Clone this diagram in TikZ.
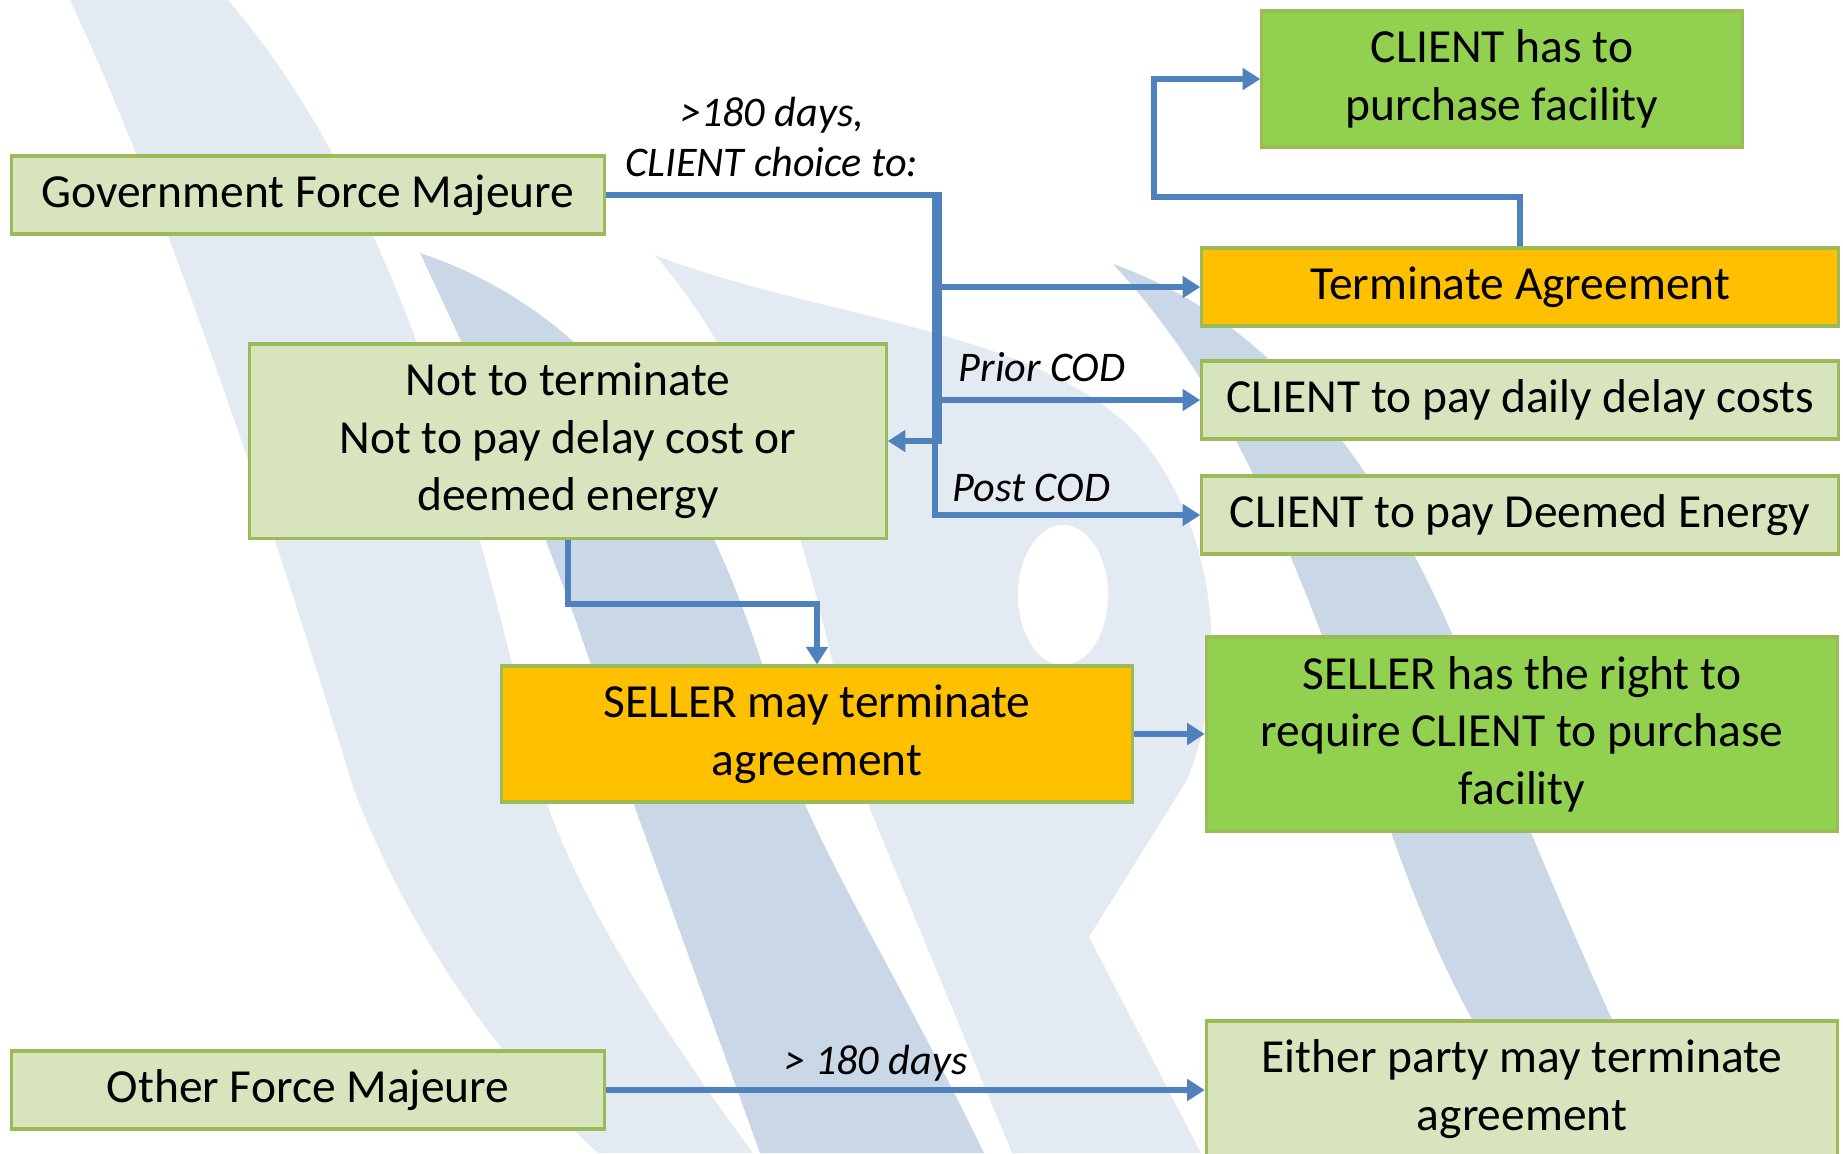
\documentclass[tikz,border=0pt]{standalone}
\usepackage{fontspec}
\setmainfont{Carlito}
\usetikzlibrary{arrows.meta}
\definecolor{palegreen}{HTML}{D7E4BD}
\definecolor{limegreen}{HTML}{92D050}
\definecolor{ambercol}{HTML}{FFC000}
\definecolor{boxline}{HTML}{9BBB59}
\definecolor{connblue}{HTML}{4F81BD}
\definecolor{wmlight}{HTML}{E4EAF2}
\definecolor{wmmid}{HTML}{CAD7E7}
\tikzset{
	fmbox/.style={draw=boxline, line width=0.9pt, align=center, inner sep=0pt, font=\fontsize{13.5}{16.4}\selectfont},
	palebox/.style={fmbox, fill=palegreen},
	limebox/.style={fmbox, fill=limegreen},
	amberbox/.style={fmbox, fill=ambercol},
	conn/.style={draw=connblue, line width=1.7pt, -{Triangle[length=5pt,width=6pt]}},
	cond/.style={font=\fontsize{12}{14}\selectfont\itshape, inner sep=0pt, align=center}
}

\begin{document}
\begin{tikzpicture}[x=0.01cm, y=-0.01cm]
			\useasboundingbox (0,0) rectangle (1843,1153);
			\clip (0,0) rectangle (1843,1153);
			
			% watermark
			\fill[wmlight] (70,0) .. controls (150,170) and (250,450) .. (354,790) .. controls (420,960) and (520,1080) .. (598,1153) -- (753,1153) .. controls (640,1000) and (570,880) .. (539,780) .. controls (480,520) and (400,200) .. (228,0) -- cycle;
			\fill[wmmid] (420,253) .. controls (480,380) and (580,600) .. (625,780) -- (760,1153) -- (984,1153) .. controls (900,980) and (830,870) .. (795,780) .. controls (740,560) and (650,330) .. (420,253) -- cycle;
			\fill[wmlight] (655,255) .. controls (820,320) and (1060,330) .. (1150,450) .. controls (1230,560) and (1220,700) .. (1187,780) -- (1089,937) -- (1201,1153) -- (1012,1153) -- (858,780) .. controls (820,600) and (780,400) .. (655,255) -- cycle;
			\fill[white] (1063,595) ellipse [x radius=0.45cm, y radius=0.7cm];
			\fill[wmmid] (1113,264) .. controls (1230,390) and (1300,560) .. (1380,800) .. controls (1430,950) and (1480,1050) .. (1560,1153) -- (1680,1153) .. controls (1620,1050) and (1560,900) .. (1500,760) .. controls (1420,520) and (1300,330) .. (1113,264) -- cycle;
			
			% boxes
			\node[palebox, minimum width=5.92cm, minimum height=0.78cm] (gov) at (308,195) {Government Force Majeure};
			\node[limebox, minimum width=4.8cm, minimum height=1.36cm] (purchase) at (1502,79) {CLIENT has to\\purchase facility};
			\node[amberbox, minimum width=6.36cm, minimum height=0.78cm] (terminate) at (1520,287) {Terminate Agreement};
			\node[palebox, minimum width=6.36cm, minimum height=0.78cm] (delay) at (1520,400) {CLIENT to pay daily delay costs};
			\node[palebox, minimum width=6.36cm, minimum height=0.78cm] (deemed) at (1520,515) {CLIENT to pay Deemed Energy};
			\node[palebox, minimum width=6.36cm, minimum height=1.94cm] (notterm) at (568,441) {Not to terminate\\Not to pay delay cost or\\deemed energy};
			\node[amberbox, minimum width=6.31cm, minimum height=1.36cm] (sellermay) at (817,734) {SELLER may terminate\\agreement};
			\node[limebox, minimum width=6.31cm, minimum height=1.94cm] (sellerright) at (1522,734) {SELLER has the right to\\require CLIENT to purchase\\facility};
			\node[palebox, minimum width=5.92cm, minimum height=0.78cm] (other) at (308,1090) {Other Force Majeure};
			\node[palebox, minimum width=6.31cm, minimum height=1.36cm] (either) at (1522,1089) {Either party may terminate\\agreement};
			
			% labels
			\node[cond] (choice) at (772,137) {>180 days,\\CLIENT choice to:};
			\node[cond, anchor=west] (prior) at (958,367) {Prior COD};
			\node[cond, anchor=west] (post) at (952,488) {Post COD};
			\node[cond] (days) at (876,1063) {> 180 days};
			
			% draw lines
			\coordinate (forka) at (935,195);
			\coordinate (forkb) at (939,195);
			\coordinate (bend) at (1154,197);
			\draw[conn] (gov.east) -- (forkb) |- (terminate.west);
			\draw[conn] (gov.east) -- (forka) |- (delay.west);
			\draw[conn] (forka) |- (deemed.west);
			\draw[conn] (forkb) |- (notterm.east);
			\draw[conn] (terminate.north) |- (bend) |- (purchase.west);
			\draw[conn] (notterm.south) -- ++(0,64) -| (sellermay.north);
			\draw[conn] (sellermay.east) -- (sellerright.west);
			\draw[conn] (other.east) -- (other.east -| either.west);
\end{tikzpicture}
\end{document}
